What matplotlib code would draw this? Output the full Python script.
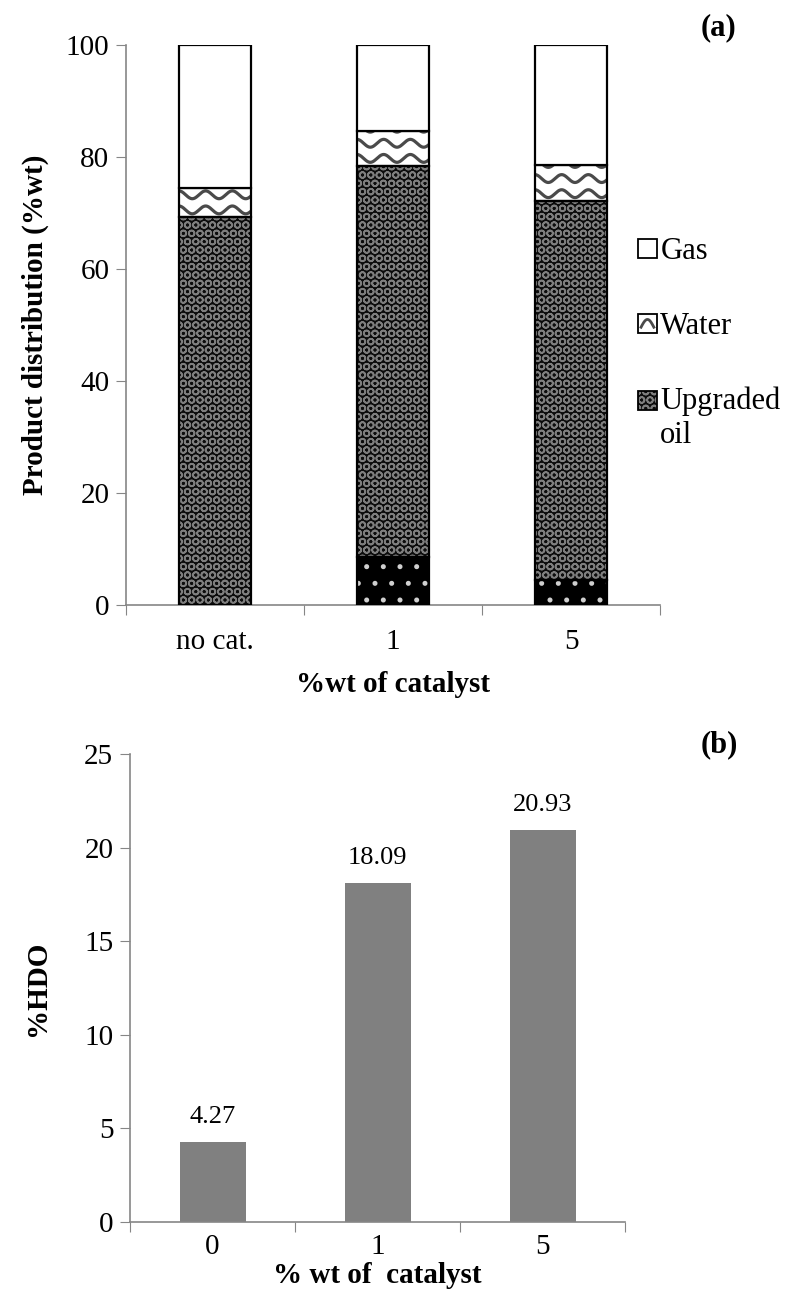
"""Product distribution and %HDO vs catalyst loading"""
import matplotlib
matplotlib.use('Agg')
import matplotlib.pyplot as plt
from matplotlib.patches import Rectangle
from matplotlib.lines import Line2D
from matplotlib.legend_handler import HandlerBase
import numpy as np

plt.rcParams['font.family'] = ['Liberation Serif', 'DejaVu Serif']
plt.rcParams['hatch.linewidth'] = 1.2

# (a) product distribution, %wt
catalyst_a = ['no cat.', '1', '5']
solid = [0.0, 8.6, 4.4]
upgraded_oil = [69.2, 69.8, 67.7]
water = [5.2, 6.2, 6.5]
gas = [25.6, 15.4, 21.4]

# (b) degree of hydrodeoxygenation
catalyst_b = ['0', '1', '5']
hdo = [4.27, 18.09, 20.93]

AXIS_GREY = '#868686'
WAVE_GREY = '#4a4a4a'
OIL_FACE, OIL_HATCH = '#0c0c0c', '#7e7e7e'
FS = 21

W, H = 790, 1290
fig = plt.figure(figsize=(W / 100, H / 100), dpi=100)
fig.patch.set_facecolor('white')


def px_axes(left, top, right, bottom):
    return fig.add_axes([left / W, 1 - bottom / H, (right - left) / W, (bottom - top) / H])


ax1 = px_axes(126, 45, 660, 605)
ax2 = px_axes(130, 754, 625, 1222)


def hatched_bar(ax, x, h, b, width, face, hatch, hatch_color):
    # hatch takes its colour from the edge, so outline is drawn separately
    ax.bar(x, h, width, bottom=b, color=face, edgecolor=hatch_color,
           hatch=hatch, linewidth=0, zorder=2)
    ax.bar(x, h, width, bottom=b, fill=False, edgecolor='black',
           linewidth=1.6, zorder=4)


def wavy_bar(ax, x, h, b, width):
    bars = ax.bar(x, h, width, bottom=b, color='white', linewidth=0, zorder=2)
    rect = bars.patches[0]
    x0 = x - width / 2
    xs = np.linspace(x0, x0 + width, 300)
    period, amp, step = 0.15, 0.7, 2.7
    for yb in np.arange(b + step * 0.5, b + h + step, step):
        ln, = ax.plot(xs, yb + amp * np.cos(2 * np.pi * (xs - x0) / period),
                      color=WAVE_GREY, lw=2.3, zorder=3)
        ln.set_clip_path(rect)
    ax.bar(x, h, width, bottom=b, fill=False, edgecolor='black',
           linewidth=1.6, zorder=4)


# ---- (a) stacked bars ----
bw = 0.405
x_a = np.arange(len(catalyst_a))
for i in x_a:
    base = 0.0
    if solid[i] > 0:
        hatched_bar(ax1, i, solid[i], base, bw, 'black', '.', '#d0d0d0')
        base += solid[i]
    hatched_bar(ax1, i, upgraded_oil[i], base, bw, OIL_FACE, 'OO', OIL_HATCH)
    base += upgraded_oil[i]
    wavy_bar(ax1, i, water[i], base, bw)
    base += water[i]
    ax1.bar(i, gas[i], bw, bottom=base, color='white', edgecolor='black',
            linewidth=1.6, zorder=4)


class Swatch:
    def __init__(self, face, hatch=None, hatch_color='black', wave=False, lift=0.0):
        self.face, self.hatch, self.hatch_color = face, hatch, hatch_color
        self.wave, self.lift = wave, lift


class SwatchHandler(HandlerBase):
    def create_artists(self, legend, orig, xdescent, ydescent, width, height,
                       fontsize, trans):
        x0, y0 = -xdescent, -ydescent + orig.lift * fontsize
        arts = [Rectangle((x0, y0), width, height, facecolor=orig.face,
                          edgecolor=orig.hatch_color, hatch=orig.hatch,
                          linewidth=0, transform=trans)]
        if orig.wave:
            t = np.linspace(0, 1, 40)
            arts.append(Line2D(x0 + width * (0.15 + 0.7 * t),
                               y0 + height * (0.3 + 0.4 * np.sin(np.pi * t)),
                               color=WAVE_GREY, lw=2, transform=trans))
        arts.append(Rectangle((x0, y0), width, height, fill=False,
                              edgecolor='black', linewidth=1.3, transform=trans))
        return arts


handles = [Swatch('white'),
           Swatch('white', wave=True),
           Swatch(OIL_FACE, 'OO', OIL_HATCH, lift=0.6)]
fig.legend(handles, ['Gas', 'Water', 'Upgraded\noil'],
           handler_map={Swatch: SwatchHandler()},
           loc='upper left', bbox_to_anchor=(623 / W, 1 - 222 / H),
           frameon=False, fontsize=FS + 1, handlelength=0.6, handleheight=0.6,
           handletextpad=0.12, labelspacing=1.5, borderpad=0)

ax1.set_xlim(-0.5, 2.5)
ax1.set_ylim(0, 100)
ax1.set_yticks(np.arange(0, 101, 20))
ax1.set_xticks([-0.5, 0.5, 1.5, 2.5])
ax1.set_xticklabels([])
ax1.set_xticks(x_a, minor=True)
ax1.set_xticklabels(catalyst_a, minor=True)
ax1.tick_params(axis='x', which='major', direction='out', length=7, color=AXIS_GREY)
ax1.tick_params(axis='x', which='minor', length=0, pad=17, labelsize=FS)
ax1.tick_params(axis='y', direction='out', length=7, color=AXIS_GREY, labelsize=FS, pad=5)
ax1.set_ylabel('Product distribution (%wt)', fontsize=FS, fontweight='bold', labelpad=12)
ax1.set_xlabel('%wt of catalyst', fontsize=FS, fontweight='bold', labelpad=12)
ax1.text(1.11, 1.03, '(a)', transform=ax1.transAxes, fontsize=FS + 1,
         fontweight='bold', ha='center', va='center')

# ---- (b) %HDO bars ----
x_b = np.arange(len(catalyst_b))
bars = ax2.bar(x_b, hdo, 0.4, color='#808080', zorder=2)
for rect, v in zip(bars.patches, hdo):
    ax2.annotate(f'{v:.2f}', (rect.get_x() + rect.get_width() / 2, rect.get_height()),
                 xytext=(0, 10), textcoords='offset points', ha='center', va='bottom',
                 fontsize=FS - 2)

ax2.set_xlim(-0.5, 2.5)
ax2.set_ylim(0, 25)
ax2.set_yticks(np.arange(0, 26, 5))
ax2.set_xticks([-0.5, 0.5, 1.5, 2.5])
ax2.set_xticklabels([])
ax2.set_xticks(x_b, minor=True)
ax2.set_xticklabels(catalyst_b, minor=True)
ax2.tick_params(axis='x', which='major', direction='out', length=7, color=AXIS_GREY)
ax2.tick_params(axis='x', which='minor', length=0, pad=9, labelsize=FS)
ax2.tick_params(axis='y', direction='out', length=7, color=AXIS_GREY, labelsize=FS, pad=5)
ax2.set_ylabel('%HDO', fontsize=FS, fontweight='bold', labelpad=24)
ax2.set_xlabel('% wt of  catalyst', fontsize=FS, fontweight='bold', labelpad=1)
ax2.text(1.19, 1.02, '(b)', transform=ax2.transAxes, fontsize=FS + 1,
         fontweight='bold', ha='center', va='center')

for ax in (ax1, ax2):
    for side in ('top', 'right'):
        ax.spines[side].set_visible(False)
    for side in ('left', 'bottom'):
        ax.spines[side].set_color(AXIS_GREY)
        ax.spines[side].set_linewidth(1.2)

fig.savefig('out.png', dpi=100, facecolor='white')
